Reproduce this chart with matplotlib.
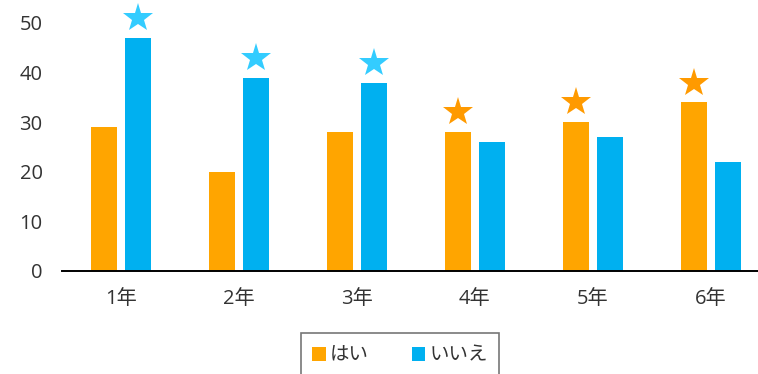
import matplotlib
matplotlib.use("Agg")
import matplotlib.pyplot as plt
from matplotlib.patches import Patch
import numpy as np

plt.rcParams['font.family'] = ['Open Sans', 'Noto Sans CJK JP', 'DejaVu Sans']

grades = ["1年", "2年", "3年", "4年", "5年", "6年"]
yes_vals = [29, 20, 28, 28, 30, 34]
no_vals = [47, 39, 38, 26, 27, 22]
series_names = ["はい", "いいえ"]
y_ticks = [0, 10, 20, 30, 40, 50]

orange = "#FFA500"
blue = "#00B0F0"
star_orange = "#FF9A00"
star_blue = "#33CCFF"

fig = plt.figure(figsize=(7.58, 3.74), dpi=100)
ax = fig.add_axes([62 / 758, 103 / 374, (758 - 62) / 758, 248 / 374])

x = np.arange(len(grades))
w = 0.22
off = 0.145
ax.bar(x - off, yes_vals, width=w, color=orange, zorder=2)
ax.bar(x + off, no_vals, width=w, color=blue, zorder=2)

# a star above the taller bar of each grade
for i, (a, b) in enumerate(zip(yes_vals, no_vals)):
    if b > a:
        xs, ys, c = x[i] + off, b, star_blue
    else:
        xs, ys, c = x[i] - off, a, star_orange
    ax.plot(xs, ys + 4.0, marker="*", markersize=22, color=c,
            markeredgewidth=0, clip_on=False, zorder=3)

ax.set_xlim(-0.5, 5.4)
ax.set_ylim(0, 50)
ax.set_xticks(x)
ax.set_xticklabels(grades)
ax.set_yticks(y_ticks)
ax.tick_params(axis="both", length=0, labelsize=14.5, colors="#333333")
ax.tick_params(axis="x", pad=13)
ax.tick_params(axis="y", pad=14)
for s in ["top", "right", "left"]:
    ax.spines[s].set_visible(False)
ax.spines["bottom"].set_linewidth(1.4)
ax.spines["bottom"].set_color("#000000")

handles = [Patch(facecolor=orange, edgecolor="none"),
           Patch(facecolor=blue, edgecolor="none")]
leg = fig.legend(handles, series_names, loc="upper center",
                 bbox_to_anchor=(400 / 758, 1 - 333 / 374), ncol=2,
                 frameon=True, fancybox=False, edgecolor="#555555",
                 prop={"family": ["Noto Sans CJK JP"], "size": 14},
                 handlelength=0.7, handleheight=0.7,
                 handletextpad=0.2, columnspacing=2.2,
                 borderpad=0.6, borderaxespad=0)
leg.get_frame().set_linewidth(1.2)
for t in leg.get_texts():
    t.set_color("#333333")

fig.savefig("out.png", dpi=100)
